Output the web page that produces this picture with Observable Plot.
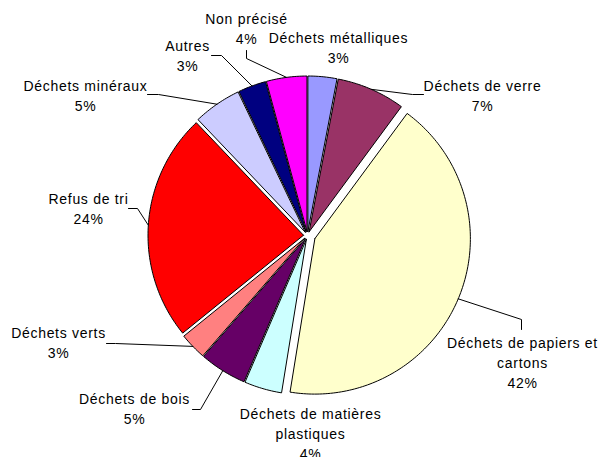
<!DOCTYPE html>
<html><head><meta charset="utf-8">
<script src="https://cdn.jsdelivr.net/npm/d3@7"></script>
<script src="https://cdn.jsdelivr.net/npm/@observablehq/plot@0.6"></script>
<style>
html,body{margin:0;padding:0;background:#fff;}
#chart svg text{letter-spacing:0.7px;}
</style></head><body><div id="chart"></div>
<script>
// ---- data ----
const categories = ["Déchets métalliques","Déchets de verre","Déchets de papiers et cartons","Déchets de matières plastiques","Déchets de bois","Déchets verts","Refus de tri","Déchets minéraux","Autres","Non précisé"];
const labelText = ["Déchets métalliques","Déchets de verre","Déchets de papiers et|cartons","Déchets de matières|plastiques","Déchets de bois","Déchets verts","Refus de tri","Déchets minéraux","Autres","Non précisé"];
const shares = [3.0, 7.1, 42.4, 3.9, 4.9, 2.8, 23.7, 5.0, 2.9, 4.2];
const colors = ["#9999FF","#993366","#FFFFCC","#CCFFFF","#660066","#FF8080","#FF0000","#CCCCFF","#000080","#FF00FF"];

// ---- layout (styles/positions, not data) ----
const W = 602, H = 457;
const cx = 307, cy = 235, R = 155.5;
const explode = {"Déchets de papiers et cartons": 8};
const defaultExplode = 4;
const lineGap = 20;
// label first-baseline position and leader points (label end, elbow)
const labelLayout = {
  "Déchets métalliques": {x: 338, y: 42, leader: null},
  "Déchets de verre": {x: 482, y: 90, leader: [[423, 94], [412, 94]]},
  "Déchets de papiers et cartons": {x: 522, y: 347, leader: [[521, 329], [521, 319]]},
  "Déchets de matières plastiques": {x: 310, y: 418, leader: null},
  "Déchets de bois": {x: 134, y: 403, leader: [[192, 409], [200, 409]]},
  "Déchets verts": {x: 58, y: 337, leader: [[106, 343], [115, 343]]},
  "Refus de tri": {x: 88, y: 203, leader: [[128, 208], [137, 208]]},
  "Déchets minéraux": {x: 85, y: 90, leader: [[147, 94], [158, 94]]},
  "Autres": {x: 187, y: 50, leader: [[211, 55], [221, 55]]},
  "Non précisé": {x: 246, y: 23, leader: [[246, 50], [246, 58]]}
};

const rows = categories.map((name, i) => ({name, value: shares[i], label: labelText[i]}));
const total = d3.sum(shares);
const arcs = d3.pie().sort(null).value(d => d.value)(rows);

const slicePts = [];
const leaderPts = [];
const textRows = [];
arcs.forEach(a => {
  const name = a.data.name;
  const e = explode[name] ?? defaultExplode;
  const m = (a.startAngle + a.endAngle) / 2;
  const ox = e * Math.sin(m), oy = -e * Math.cos(m);
  const ax = cx + ox, ay = cy + oy;
  slicePts.push({name, x: ax, y: ay});
  const n = Math.max(4, Math.ceil((a.endAngle - a.startAngle) / (Math.PI / 180)));
  for (let k = 0; k <= n; k++) {
    const t = a.startAngle + (a.endAngle - a.startAngle) * k / n;
    slicePts.push({name, x: ax + R * Math.sin(t), y: ay - R * Math.cos(t)});
  }
  slicePts.push({name, x: ax, y: ay});

  const L = labelLayout[name];
  const pct = Math.round(a.data.value / total * 100) + "%";
  const lines = a.data.label.split("|").concat([pct]);
  lines.forEach((s, i) => textRows.push({x: L.x, y: L.y + i * lineGap, text: s}));
  if (L.leader) {
    L.leader.forEach(p => leaderPts.push({name, x: p[0], y: p[1]}));
    leaderPts.push({name, x: cx + (R + e) * Math.sin(m), y: cy - (R + e) * Math.cos(m)});
  }
});

const chart = Plot.plot({
  width: W, height: H,
  margin: 0,
  style: {fontFamily: "'Liberation Sans', Arial, sans-serif", background: "#fff"},
  x: {domain: [0, W], range: [0, W], axis: null},
  y: {domain: [0, H], range: [0, H], axis: null},
  color: {type: "ordinal", domain: categories, range: colors},
  marks: [
    Plot.line(slicePts, {x: "x", y: "y", z: "name", fill: "name", stroke: "#000", strokeWidth: 1, strokeLinejoin: "miter", curve: "linear"}),
    Plot.line(leaderPts, {x: "x", y: "y", z: "name", stroke: "#000", strokeWidth: 1, curve: "linear"}),
    Plot.text(textRows, {x: "x", y: "y", text: "text", textAnchor: "middle", lineAnchor: "bottom", fontSize: 14, fill: "#000"})
  ]
});
document.getElementById("chart").appendChild(chart);
</script></body></html>
